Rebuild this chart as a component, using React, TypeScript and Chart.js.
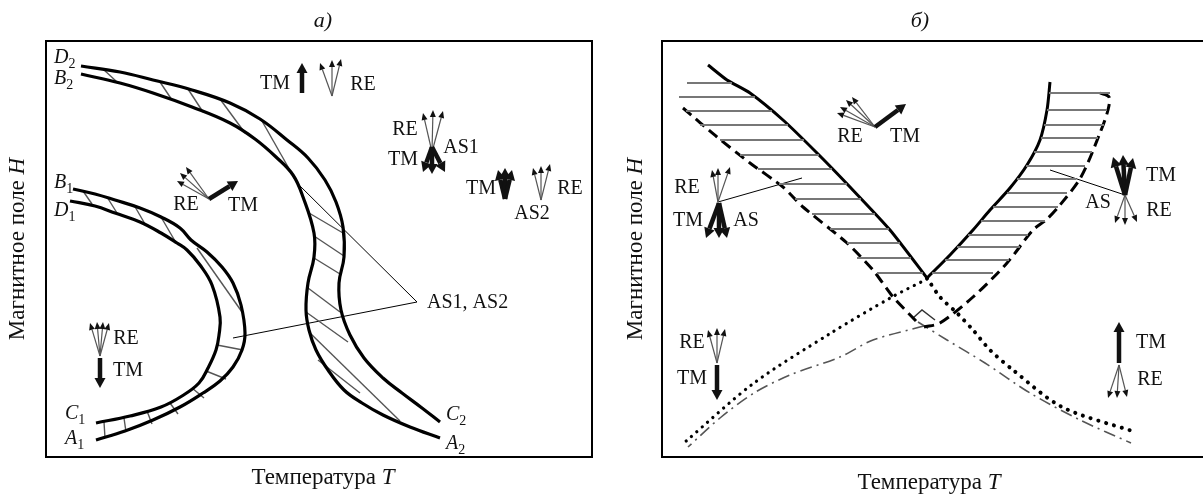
import React, { useEffect, useRef } from "react";
import { Chart, registerables } from "chart.js";
Chart.register(...registerables);

type P = [number, number];
type Seg = [number, number, number, number];

const FONT = '"Liberation Serif", "Times New Roman", serif';

// ---------------- Panel а (T: 0..546, H: 0..416) ----------------
const A_D2: P[] = [[35,391],[74,385],[107,377],[146,367],[184,354],[214,338],[241,317],[262,299],[279,277],[290,255],[297,230],[298,200],[293,174],[295,147],[304,122],[318,99],[337,79],[356,64],[376,49],[394,35]];
const A_B2: P[] = [[35,383],[74,374],[107,364],[146,350],[184,334],[209,318],[230,300],[247,282],[257,260],[268,224],[268,200],[262,174],[260,147],[263,127],[270,107],[282,87],[298,67],[316,54],[337,42],[364,30],[394,19]];
const A_B1: P[] = [[27,268],[49,263],[69,257],[94,249],[115,240],[134,229],[145,217],[161,205],[176,190],[187,174],[195,152],[199,124],[196,107],[187,90],[174,76],[157,64],[134,50],[107,37],[79,26],[50,17]];
const A_D1: P[] = [[24,256],[49,251],[69,244],[94,235],[115,224],[131,214],[141,207],[154,192],[166,172],[174,140],[173,122],[170,107],[162,89],[153,74],[136,61],[115,50],[84,41],[50,34]];
const A_HATCH: Seg[] = [
  [57,388,71,375],[114,375,126,357],[142,368,157,345],[174,358,199,324],[216,336,254,269],
  [263,244,297,224],[268,221,298,201],[268,199,294,183],[262,169,294,145],[260,145,302,115],
  [263,125,354,36],[272,97,314,64],
  [37,266,46,253],[61,260,71,244],[88,252,99,233],[115,240,129,216],[151,209,196,145],
  [171,112,197,107],[160,86,180,78],[146,69,158,59],[124,54,132,43],[101,46,106,33],[78,39,80,25],[58,35,59,19],
];
const A_LEADERS: Seg[] = [[251,274,371,155],[187,119,371,155]];
const A_THICK: Seg[] = [
  [256,364,256,394],
  [386,310,377,285],[386,310,386,283],[386,310,399,285],
  [459,258,452,287],[459,258,459,289],[459,258,466,287],
  [163,258,192,276],
  [54,99,54,69],
];
const A_THIN: Seg[] = [
  [286,361,274,394],[286,361,286,397],[286,361,295,398],
  [386,305,377,344],[386,305,387,347],[386,305,397,346],
  [495,257,487,289],[495,257,495,291],[495,257,504,293],
  [163,258,131,276],[163,258,134,284],[163,258,140,290],
  [54,101,44,134],[54,101,51,135],[54,101,57,135],[54,101,63,134],
];
const A_LABELS: [string, number, number][] = [
  ["TM",229,373],["RE",317,372],["RE",359,327],["TM",357,297],["AS1",415,309],
  ["TM",435,268],["RE",524,268],["AS2",486,243],["RE",140,252],["TM",197,251],
  ["RE",80,118],["TM",82,86],
];
const A_LEFT_LABELS: [string, number, number][] = [["AS1, AS2",381,154]];
const A_CURVE_LABELS: [string, string, number, number][] = [
  ["D","2",8,399],["B","2",8,378],["B","1",8,274],["D","1",8,246],
  ["C","1",19,43],["A","1",19,18],["C","2",400,42],["A","2",400,13],
];

// ---------------- Panel б (T: 0..541, H: 0..416) ----------------
const B_SOLID_L: P[] = [[46,392],[65,377],[88,364],[121,337],[155,304],[188,270],[228,227],[265,179]];
const B_SOLID_R: P[] = [[388,375],[385,347],[378,317],[365,292],[348,269],[328,247],[311,227],[288,202],[265,179]];
const B_DASH_L: P[] = [[21,349],[55,320],[88,294],[121,270],[141,250],[185,214],[211,187],[231,160],[254,136]];
const B_DASH_R: P[] = [[438,364],[447,360],[446,347],[438,324],[419,280],[398,252],[384,237],[371,227],[345,194],[311,160],[278,134],[262,130]];
const B_DOT_L: P[] = [[265,178],[230,160],[169,124],[92,74],[23,15]];
const B_DOT_R: P[] = [[265,179],[278,160],[295,144],[311,127],[328,107],[351,87],[400,50],[473,25]];
const B_DASHDOT_L: P[] = [[262,131],[211,117],[178,100],[128,82],[92,64],[58,39],[26,10]];
const B_DASHDOT_R: P[] = [[256,135],[285,117],[323,94],[368,64],[418,37],[469,14]];
const B_CORNER: P[] = [[251,139],[260,147],[273,137]];
const B_HATCH_L: [number, number, number][] = [
  [374,25,70],[360,17,93],[346,24,110],[332,38,126],[317,58,142],[302,78,157],[288,96,170],
  [273,117,185],[258,133,199],[243,150,213],[228,168,227],[214,185,238],[199,195,249],[184,215,261],
];
const B_HATCH_R: [number, number, number][] = [
  [364,387,448],[347,385,445],[332,382,442],[319,379,436],[305,372,430],[291,364,423],[278,355,414],
  [264,345,405],[250,331,396],[236,319,383],[222,306,366],[210,295,358],[197,283,347],[184,270,331],
];
const B_LEADERS: Seg[] = [[56,255,140,279],[388,287,463,262]];
const B_THICK: Seg[] = [
  [213,330,244,353],
  [57,254,44,219],[57,254,57,219],[57,254,65,219],
  [463,262,451,300],[463,262,461,302],[463,262,471,299],
  [55,92,55,57],
  [457,94,457,135],
];
const B_THIN: Seg[] = [
  [213,330,175,344],[213,330,178,350],[213,330,184,357],[213,330,190,360],
  [56,255,50,287],[56,255,56,289],[56,255,68,290],
  [463,262,453,234],[463,262,463,232],[463,262,475,235],
  [55,94,46,127],[55,94,55,129],[55,94,63,128],
  [457,92,446,59],[457,92,455,59],[457,92,465,60],
];
const B_LABELS: [string, number, number][] = [
  ["RE",188,320],["TM",243,320],["RE",25,269],["TM",26,236],["AS",84,236],
  ["TM",499,281],["RE",497,246],["AS",436,254],["RE",30,114],["TM",30,78],
  ["TM",489,114],["RE",488,77],
];

// ---------------- helpers ----------------
function line(points: P[], opts: any = {}) {
  return {
    data: points.map(([x, y]) => ({ x, y })),
    showLine: true,
    pointRadius: 0,
    borderColor: opts.color ?? "#000",
    borderWidth: opts.width ?? 3,
    borderDash: opts.dash ?? [],
    borderCapStyle: opts.cap ?? "butt",
    tension: opts.tension ?? 0.4,
    fill: false,
  };
}
function segs(list: Seg[], opts: any) {
  return list.map(([a, b, c, d]) => line([[a, b], [c, d]], { tension: 0, ...opts }));
}

function drawArrow(ctx: CanvasRenderingContext2D, x1: number, y1: number, x2: number, y2: number, thick: boolean) {
  const ang = Math.atan2(y2 - y1, x2 - x1);
  const hl = thick ? 10 : 7;
  const hw = thick ? 5.5 : 3;
  const bx = x2 - hl * Math.cos(ang);
  const by = y2 - hl * Math.sin(ang);
  ctx.beginPath();
  ctx.moveTo(x1, y1);
  ctx.lineTo(bx, by);
  ctx.lineWidth = thick ? 4.5 : 1.2;
  ctx.strokeStyle = thick ? "#111" : "#555";
  ctx.lineCap = "butt";
  ctx.stroke();
  ctx.beginPath();
  ctx.moveTo(x2, y2);
  ctx.lineTo(bx + hw * Math.sin(ang), by - hw * Math.cos(ang));
  ctx.lineTo(bx - hw * Math.sin(ang), by + hw * Math.cos(ang));
  ctx.closePath();
  ctx.fillStyle = "#111";
  ctx.fill();
}

function drawMixed(ctx: CanvasRenderingContext2D, parts: [string, boolean][], cx: number, cy: number, size: number, rotate = false) {
  ctx.save();
  ctx.translate(cx, cy);
  if (rotate) ctx.rotate(-Math.PI / 2);
  ctx.textBaseline = "middle";
  ctx.textAlign = "left";
  ctx.fillStyle = "#111";
  const widths = parts.map(([t, it]) => {
    ctx.font = `${it ? "italic " : ""}${size}px ${FONT}`;
    return ctx.measureText(t).width;
  });
  let x = -widths.reduce((s, w) => s + w, 0) / 2;
  parts.forEach(([t, it], i) => {
    ctx.font = `${it ? "italic " : ""}${size}px ${FONT}`;
    ctx.fillText(t, x, 0);
    x += widths[i];
  });
  ctx.restore();
}

function panelPlugin(cfg: any) {
  return {
    id: "panel_" + cfg.id,
    afterDatasetsDraw(chart: any) {
      const ctx: CanvasRenderingContext2D = chart.ctx;
      const X = (v: number) => chart.scales.x.getPixelForValue(v);
      const Y = (v: number) => chart.scales.y.getPixelForValue(v);
      ctx.save();
      cfg.thin.forEach(([a, b, c, d]: Seg) => drawArrow(ctx, X(a), Y(b), X(c), Y(d), false));
      cfg.thick.forEach(([a, b, c, d]: Seg) => drawArrow(ctx, X(a), Y(b), X(c), Y(d), true));
      ctx.fillStyle = "#111";
      ctx.textBaseline = "middle";
      ctx.font = `20px ${FONT}`;
      ctx.textAlign = "center";
      cfg.labels.forEach(([t, a, b]: [string, number, number]) => ctx.fillText(t, X(a), Y(b)));
      ctx.textAlign = "left";
      (cfg.leftLabels || []).forEach(([t, a, b]: [string, number, number]) => ctx.fillText(t, X(a), Y(b)));
      (cfg.curveLabels || []).forEach(([l, s, a, b]: [string, string, number, number]) => {
        ctx.font = `italic 20px ${FONT}`;
        ctx.fillText(l, X(a), Y(b));
        const w = ctx.measureText(l).width;
        ctx.font = `14px ${FONT}`;
        ctx.fillText(s, X(a) + w, Y(b) + 6);
      });
      const { left, top, right, bottom } = chart.chartArea;
      ctx.lineWidth = 2;
      ctx.strokeStyle = "#000";
      ctx.beginPath();
      if (cfg.closed) {
        ctx.rect(left, top, right - left, bottom - top);
      } else {
        ctx.moveTo(chart.width, top);
        ctx.lineTo(left, top);
        ctx.lineTo(left, bottom);
        ctx.lineTo(chart.width, bottom);
      }
      ctx.stroke();
      drawMixed(ctx, [[cfg.title, true]], cfg.titleX, 21, 22);
      drawMixed(ctx, [["Температура ", false], ["T", true]], cfg.xLabelX, cfg.xLabelY, 23);
      drawMixed(ctx, [["Магнитное поле ", false], ["H", true]], cfg.yLabelX, (top + bottom) / 2, 23, true);
      ctx.restore();
    },
  };
}

function makeChart(canvas: HTMLCanvasElement, datasets: any[], xmax: number, padding: any, plugin: any) {
  return new Chart(canvas, {
    type: "scatter",
    data: { datasets },
    options: {
      animation: false,
      responsive: false,
      devicePixelRatio: 1,
      events: [],
      layout: { padding },
      plugins: { legend: { display: false }, tooltip: { enabled: false } },
      scales: {
        x: { type: "linear", min: 0, max: xmax, display: false },
        y: { type: "linear", min: 0, max: 416, display: false },
      },
    } as any,
    plugins: [plugin],
  });
}

export default function App() {
  const refA = useRef<HTMLCanvasElement>(null);
  const refB = useRef<HTMLCanvasElement>(null);
  useEffect(() => {
    const hatchA = { color: "#555", width: 1.4 };
    const dsA = [
      line(A_D2, { width: 3.2 }),
      line(A_B2, { width: 3.2 }),
      line(A_B1, { width: 3.2 }),
      line(A_D1, { width: 3.2 }),
      ...segs(A_HATCH, hatchA),
      ...segs(A_LEADERS, { color: "#000", width: 1 }),
    ];
    const hatchB = { color: "#777", width: 2 };
    const dsB = [
      ...B_HATCH_L.map(([h, a, b]) => line([[a, h], [b, h]], { tension: 0, ...hatchB })),
      ...B_HATCH_R.map(([h, a, b]) => line([[a, h], [b, h]], { tension: 0, ...hatchB })),
      line(B_SOLID_L, { width: 3, tension: 0.2 }),
      line(B_SOLID_R, { width: 3, tension: 0.3 }),
      line(B_DASH_L, { width: 3, dash: [11, 6], tension: 0.2 }),
      line(B_DASH_R, { width: 3, dash: [11, 6], tension: 0.3 }),
      line(B_DOT_L, { width: 3.2, dash: [0.1, 7], cap: "round", tension: 0.3 }),
      line(B_DOT_R, { width: 4, dash: [0.1, 8], cap: "round", tension: 0.3 }),
      line(B_DASHDOT_L, { width: 1.6, color: "#555", dash: [12, 5, 2, 5], tension: 0.3 }),
      line(B_DASHDOT_R, { width: 1.6, color: "#555", dash: [12, 5, 2, 5], tension: 0.3 }),
      line(B_CORNER, { width: 1.5, color: "#333", tension: 0 }),
      ...segs(B_LEADERS, { color: "#000", width: 1 }),
    ];
    const pa = panelPlugin({
      id: "a", thin: A_THIN, thick: A_THICK, labels: A_LABELS, leftLabels: A_LEFT_LABELS,
      curveLabels: A_CURVE_LABELS, closed: true, title: "а)", titleX: 323, xLabelX: 323, xLabelY: 478, yLabelX: 18,
    });
    const pb = panelPlugin({
      id: "b", thin: B_THIN, thick: B_THICK, labels: B_LABELS, closed: false,
      title: "б)", titleX: 320, xLabelX: 329, xLabelY: 483, yLabelX: 36,
    });
    const ca = makeChart(refA.current!, dsA, 546, { left: 46, right: 8, top: 41, bottom: 40 }, pa);
    const cb = makeChart(refB.current!, dsB, 541, { left: 62, right: 0, top: 41, bottom: 40 }, pb);
    return () => {
      ca.destroy();
      cb.destroy();
    };
  }, []);
  return (
    <div style={{ position: "fixed", left: 0, top: 0, width: 1203, height: 497, background: "#fff" }}>
      <canvas ref={refA} width={600} height={497} style={{ position: "absolute", left: 0, top: 0, width: 600, height: 497 }} />
      <canvas ref={refB} width={603} height={497} style={{ position: "absolute", left: 600, top: 0, width: 603, height: 497 }} />
    </div>
  );
}
